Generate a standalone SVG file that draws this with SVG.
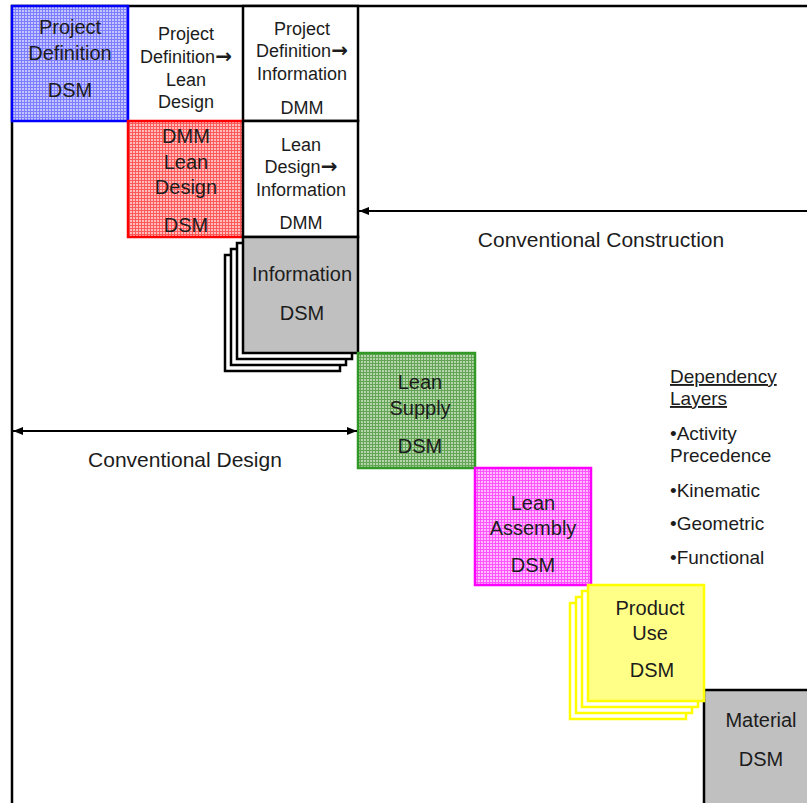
<svg xmlns="http://www.w3.org/2000/svg" width="807" height="803" viewBox="0 0 807 803">
  <style>
    text { font-family: "Liberation Sans", Arial, sans-serif; fill: #1c1c1c; text-anchor: middle; }
    .t20 { font-size: 20px; }
    .t18 { font-size: 18px; }
    .ar { font-family: "DejaVu Sans", sans-serif; font-weight: bold; font-size: 20px; }
    .lbl { font-size: 21px; }
    .leg { font-size: 19px; text-anchor: start; }
    .frame { fill: none; stroke: #000; stroke-width: 2.5; }
    .dmm { fill: #fff; stroke: #000; stroke-width: 2.5; }
    .grey { fill: #c0c0c0; stroke: #000; stroke-width: 2.5; }
    .stack { fill: #fff; stroke: #000; stroke-width: 2.5; }
    .ystack { fill: #fff; stroke: #ffff00; stroke-width: 2.5; }
    .arrow { stroke: #000; stroke-width: 2.2; fill: none; }
  </style>
  <defs>
    <pattern id="gridBlue" width="3" height="3" patternUnits="userSpaceOnUse">
      <rect width="3" height="3" fill="#c4c4ff"/>
      <path d="M0 0.5H3M0.5 0V3" stroke="#7d7dff" stroke-width="1"/>
    </pattern>
    <pattern id="gridRed" width="3" height="3" patternUnits="userSpaceOnUse">
      <rect width="3" height="3" fill="#ffbcbc"/>
      <path d="M0 0.5H3M0.5 0V3" stroke="#ff5a5a" stroke-width="1"/>
    </pattern>
    <pattern id="gridGreen" width="3" height="3" patternUnits="userSpaceOnUse">
      <rect width="3" height="3" fill="#b4d6aa"/>
      <path d="M0 0.5H3M0.5 0V3" stroke="#63a456" stroke-width="1"/>
    </pattern>
    <pattern id="gridMagenta" width="3" height="3" patternUnits="userSpaceOnUse">
      <rect width="3" height="3" fill="#ffbcff"/>
      <path d="M0 0.5H3M0.5 0V3" stroke="#ff55ff" stroke-width="1"/>
    </pattern>
    <marker id="head" viewBox="0 0 10 8" refX="10" refY="4" markerWidth="10" markerHeight="8" markerUnits="userSpaceOnUse" orient="auto-start-reverse">
      <path d="M0 0L10 4L0 8z" fill="#000"/>
    </marker>
  </defs>

  <!-- outer matrix frame -->
  <path class="frame" d="M12 803V6H807"/>

  <g id="project-definition-dsm">
    <rect x="12" y="6" width="116" height="115" fill="url(#gridBlue)" stroke="#0000ff" stroke-width="2.5"/>
    <text class="t20" x="70" y="34">Project</text>
    <text class="t20" x="70" y="60">Definition</text>
    <text class="t20" x="70" y="97">DSM</text>
  </g>

  <g id="pd-to-lean-design">
    <text class="t18" x="186" y="40">Project</text>
    <text class="t18" x="186" y="63">Definition<tspan class="ar">→</tspan></text>
    <text class="t18" x="186" y="86">Lean</text>
    <text class="t18" x="186" y="108">Design</text>
  </g>

  <g id="pd-to-information-dmm">
    <rect class="dmm" x="243" y="6" width="115" height="115"/>
    <text class="t18" x="302" y="35">Project</text>
    <text class="t18" x="302" y="57">Definition<tspan class="ar">→</tspan></text>
    <text class="t18" x="302" y="80">Information</text>
    <text class="t18" x="302" y="114">DMM</text>
  </g>

  <g id="lean-design-dsm">
    <rect x="128" y="121" width="115" height="116" fill="url(#gridRed)" stroke="#ff0000" stroke-width="2.5"/>
    <text class="t20" x="186" y="143">DMM</text>
    <text class="t20" x="186" y="169">Lean</text>
    <text class="t20" x="186" y="194">Design</text>
    <text class="t20" x="186" y="232">DSM</text>
  </g>

  <g id="lean-design-to-information-dmm">
    <rect class="dmm" x="243" y="121" width="115" height="116"/>
    <text class="t18" x="301" y="151">Lean</text>
    <text class="t18" x="301" y="173">Design<tspan class="ar">→</tspan></text>
    <text class="t18" x="301" y="196">Information</text>
    <text class="t18" x="301" y="229">DMM</text>
  </g>

  <g id="information-dsm">
    <rect class="stack" x="225" y="255" width="115" height="116"/>
    <rect class="stack" x="231" y="249" width="115" height="116"/>
    <rect class="stack" x="237" y="243" width="115" height="116"/>
    <rect class="grey" x="243" y="237" width="115" height="116"/>
    <text class="t20" x="302" y="281">Information</text>
    <text class="t20" x="302" y="320">DSM</text>
  </g>

  <g id="lean-supply-dsm">
    <rect x="358" y="353" width="117" height="115" fill="url(#gridGreen)" stroke="#339926" stroke-width="2.5"/>
    <text class="t20" x="420" y="389">Lean</text>
    <text class="t20" x="420" y="415">Supply</text>
    <text class="t20" x="420" y="453">DSM</text>
  </g>

  <g id="lean-assembly-dsm">
    <rect x="475" y="468" width="116" height="117" fill="url(#gridMagenta)" stroke="#ff00ff" stroke-width="2.5"/>
    <text class="t20" x="533" y="510">Lean</text>
    <text class="t20" x="533" y="535">Assembly</text>
    <text class="t20" x="533" y="572">DSM</text>
  </g>

  <g id="material-dsm">
    <rect class="grey" x="704" y="690" width="120" height="130"/>
    <text class="t20" x="761" y="727">Material</text>
    <text class="t20" x="761" y="766">DSM</text>
  </g>

  <g id="product-use-dsm">
    <rect class="ystack" x="570" y="603" width="116" height="116"/>
    <rect class="ystack" x="576" y="597" width="116" height="116"/>
    <rect class="ystack" x="582" y="591" width="116" height="116"/>
    <rect x="588" y="585" width="116" height="116" fill="#ffff88" stroke="#ffff00" stroke-width="2.5"/>
    <text class="t20" x="650" y="615">Product</text>
    <text class="t20" x="650" y="640">Use</text>
    <text class="t20" x="652" y="677">DSM</text>
  </g>

  <g id="connectors">
    <line class="arrow" x1="807" y1="211" x2="359" y2="211" marker-end="url(#head)"/>
    <line class="arrow" x1="13" y1="431" x2="357" y2="431" marker-start="url(#head)" marker-end="url(#head)"/>
  </g>

  <g id="phase-labels">
    <text class="lbl" x="601" y="247">Conventional Construction</text>
    <text class="lbl" x="185" y="467">Conventional Design</text>
  </g>

  <g id="dependency-layers">
    <text class="leg" x="670" y="383" text-decoration="underline">Dependency</text>
    <text class="leg" x="670" y="405" text-decoration="underline">Layers</text>
    <text class="leg" x="670" y="440">•Activity</text>
    <text class="leg" x="670" y="462">Precedence</text>
    <text class="leg" x="670" y="497">•Kinematic</text>
    <text class="leg" x="670" y="530">•Geometric</text>
    <text class="leg" x="670" y="564">•Functional</text>
  </g>
</svg>
